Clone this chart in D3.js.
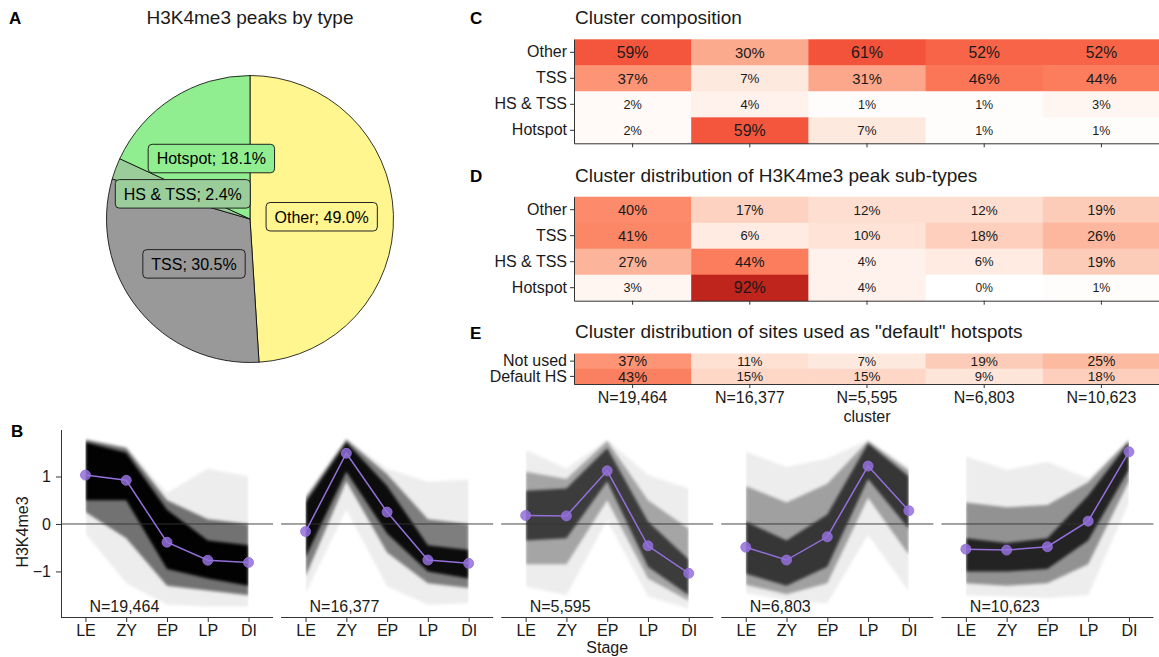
<!DOCTYPE html>
<html><head><meta charset="utf-8">
<script src="https://cdn.jsdelivr.net/npm/d3@7"></script>
<style>
body{margin:0;background:#fff}
text{font-family:"Liberation Sans",Arial,Helvetica,sans-serif}
</style>
</head><body>
<svg id="chart" width="1159" height="657"></svg>
<script>
// ---------------- DATA ----------------
// A: pie
const pieTypes = ["Other", "TSS", "HS & TSS", "Hotspot"];
const piePercents = [49.0, 30.5, 2.4, 18.1];

// clusters (shared by B, C, D, E)
const clusterLabels = ["N=19,464", "N=16,377", "N=5,595", "N=6,803", "N=10,623"];
const clusterSizes = [19464, 16377, 5595, 6803, 10623];

// C: cluster composition (% of each cluster)
const peakTypes = ["Other", "TSS", "HS & TSS", "Hotspot"];
const compositionOther   = [59, 30, 61, 52, 52];
const compositionTSS     = [37, 7, 31, 46, 44];
const compositionHSTSS   = [2, 4, 1, 1, 3];
const compositionHotspot = [2, 59, 7, 1, 1];

// D: cluster distribution of peak sub-types
const distOther   = [40, 17, 12, 12, 19];
const distTSS     = [41, 6, 10, 18, 26];
const distHSTSS   = [27, 44, 4, 6, 19];
const distHotspot = [3, 92, 4, 0, 1];

// E: default hotspots
const hsRows = ["Not used", "Default HS"];
const hsNotUsed = [37, 11, 7, 19, 25];
const hsDefault = [43, 15, 15, 9, 18];

// B: H3K4me3 profiles by stage (mean + spread envelopes)
const stages = ["LE", "ZY", "EP", "LP", "DI"];
const yTicks = [-1, 0, 1];
const meanProfile = [
  [1.03, 0.92, -0.385, -0.765, -0.81],
  [-0.16, 1.49, 0.25, -0.76, -0.83],
  [0.18, 0.17, 1.12, -0.46, -1.04],
  [-0.49, -0.76, -0.27, 1.22, 0.28],
  [-0.53, -0.55, -0.48, 0.06, 1.52]
];
const profileMax = [
  [1.78, 1.63, 0.65, 1.17, 1.00],
  [0.58, 1.80, 1.17, 0.89, 0.93],
  [1.56, 1.17, 1.78, 1.03, 0.75],
  [1.52, 1.20, 1.38, 1.77, 1.20],
  [1.42, 1.14, 1.31, 0.96, 1.78]
];
const profileP90 = [
  [1.78, 1.60, 0.50, 0.10, 0.00],
  [0.55, 1.78, 1.05, 0.10, 0.00],
  [1.10, 0.95, 1.75, 0.50, -0.10],
  [0.80, 0.45, 0.85, 1.75, 1.12],
  [0.45, 0.35, 0.40, 0.88, 1.77]
];
const profileP75 = [
  [1.72, 1.50, 0.30, -0.35, -0.45],
  [0.45, 1.72, 0.80, -0.45, -0.55],
  [0.70, 0.75, 1.60, 0.05, -0.75],
  [0.05, -0.35, 0.20, 1.70, 1.00],
  [-0.30, -0.40, -0.30, 0.60, 1.72]
];
const profileP25 = [
  [0.50, 0.50, -0.95, -1.15, -1.30],
  [-0.70, 1.10, -0.20, -1.00, -1.15],
  [-0.35, -0.30, 0.90, -0.90, -1.50],
  [-1.05, -1.30, -0.90, 0.95, -0.10],
  [-1.00, -1.00, -0.95, -0.35, 1.15]
];
const profileP10 = [
  [0.25, -0.30, -1.30, -1.40, -1.50],
  [-1.10, 0.90, -0.60, -1.25, -1.35],
  [-0.85, -0.85, 0.50, -1.15, -1.62],
  [-1.28, -1.48, -1.25, 0.55, -0.65],
  [-1.25, -1.30, -1.25, -0.85, 0.90]
];
const profileMin = [
  [-0.20, -1.25, -1.70, -1.74, -1.74],
  [-1.46, 0.30, -1.32, -1.70, -1.67],
  [-1.32, -1.50, 0.08, -1.53, -1.78],
  [-1.46, -1.60, -1.67, -0.23, -1.42],
  [-1.50, -1.53, -1.56, -1.50, 0.44]
];

// ---------------- DRAW ----------------
const svg = d3.select("#chart");
svg.append("rect").attr("width", 1159).attr("height", 657).attr("fill", "#fff");
const TXT = "#1a1a1a", AX = "#333";
const FONT = '"Liberation Sans",Arial,sans-serif';

const defs = svg.append("defs");
defs.append("filter").attr("id", "soft").attr("x", "-5%").attr("y", "-5%").attr("width", "110%").attr("height", "110%")
  .append("feGaussianBlur").attr("stdDeviation", 1.6);

function letter(t, x, y) {
  svg.append("text").attr("x", x).attr("y", y).attr("font-size", 17)
    .attr("font-weight", "bold").attr("fill", "#000").text(t);
}
letter("A", 9, 23.5); letter("B", 11, 436.5); letter("C", 470, 23.5);
letter("D", 470, 181.5); letter("E", 470, 338.5);

// ---- A: pie ----
const pieColors = { "Other": "#FFF68F", "TSS": "#999999", "HS & TSS": "#9BCD9B", "Hotspot": "#90EE90" };
const cx = 250, cy = 219, R = 143.5;
svg.append("text").attr("x", cx).attr("y", 24).attr("text-anchor", "middle")
  .attr("font-size", 19).attr("fill", TXT).text("H3K4me3 peaks by type");
const pieData = d3.pie().sort(null).value(d => d.v)(pieTypes.map((t, i) => ({ t, v: piePercents[i] })));
const arc = d3.arc().innerRadius(0).outerRadius(R);
const labelArc = d3.arc().innerRadius(R * 0.5).outerRadius(R * 0.5);
const pg = svg.append("g").attr("transform", `translate(${cx},${cy})`);
pg.selectAll("path.slice").data(pieData).join("path").attr("class", "slice")
  .attr("d", arc).attr("fill", d => pieColors[d.data.t]).attr("stroke", "#000").attr("stroke-width", 0.8);
pieData.forEach(d => {
  const [lx, ly] = labelArc.centroid(d);
  const lg = pg.append("g").attr("transform", `translate(${lx},${ly})`);
  const rect = lg.append("rect");
  const tx = lg.append("text").attr("text-anchor", "middle").attr("dy", "0.36em")
    .attr("font-size", 16).attr("fill", "#000").text(`${d.data.t}; ${d.data.v.toFixed(1)}%`);
  const w = tx.node().getComputedTextLength() + 17, h = 28.5;
  rect.attr("x", -w / 2).attr("y", -h / 2).attr("width", w).attr("height", h).attr("rx", 4)
    .attr("fill", pieColors[d.data.t]).attr("stroke", "#222").attr("stroke-width", 1);
});

// ---- C, D, E heatmaps ----
const fillColor = v => {
  const t = v / 100;
  const tt = t <= 0.5 ? t : 0.5 + (t - 0.5) * 0.62;
  const c = d3.rgb(d3.interpolateRgb("#ffffff", d3.interpolateReds(tt))(Math.min(1, t / 0.05)));
  if (t > 0.55) { c.r -= (t - 0.55) * 25; c.g += (t - 0.55) * 25; }
  return c.formatHex();
};
const hx = d3.scaleBand().domain(clusterLabels).range([574, 1160]);

function heatmap(rows, values, top, bottom, fMin, fMax, title, titleY, xLabels) {
  const y = d3.scaleBand().domain(rows).range([top, bottom]);
  const g = svg.append("g");
  const maxV = d3.max(values.flat());
  const cells = [];
  rows.forEach((r, ri) => clusterLabels.forEach((c, ci) => cells.push({ r, c, v: values[ri][ci] })));
  g.selectAll("rect").data(cells).join("rect")
    .attr("x", d => hx(d.c)).attr("y", d => y(d.r))
    .attr("width", hx.bandwidth() + 0.5).attr("height", y.bandwidth() + 0.5)
    .attr("fill", d => fillColor(d.v));
  g.selectAll("text.val").data(cells).join("text").attr("class", "val")
    .attr("x", d => hx(d.c) + hx.bandwidth() / 2).attr("y", d => y(d.r) + y.bandwidth() / 2)
    .attr("dy", "0.36em").attr("text-anchor", "middle").attr("fill", TXT)
    .attr("font-size", d => fMin + (fMax - fMin) * Math.sqrt(d.v / maxV))
    .text(d => d.v + "%");
  const ya = g.append("g").attr("transform", `translate(574,0)`)
    .call(d3.axisLeft(y).tickSize(4).tickPadding(3).tickSizeOuter(0));
  const xa = g.append("g").attr("transform", `translate(0,${bottom})`)
    .call(d3.axisBottom(hx).tickSize(4).tickPadding(4).tickSizeOuter(0));
  [ya, xa].forEach(a => {
    a.attr("font-size", 16).attr("font-family", FONT).attr("color", AX);
    a.selectAll("text").attr("fill", TXT);
    a.select(".domain").attr("stroke", AX).attr("stroke-width", 1);
  });
  if (!xLabels) xa.selectAll("text").remove();
  svg.append("text").attr("x", 575).attr("y", titleY).attr("font-size", 19).attr("fill", TXT).text(title);
}
heatmap(peakTypes, [compositionOther, compositionTSS, compositionHSTSS, compositionHotspot],
  39.3, 143.3, 12, 16, "Cluster composition", 24, false);
heatmap(peakTypes, [distOther, distTSS, distHSTSS, distHotspot],
  196.7, 300.7, 12, 16, "Cluster distribution of H3K4me3 peak sub-types", 182, false);
heatmap(hsRows, [hsNotUsed, hsDefault],
  353.5, 384, 11.5, 14.7, 'Cluster distribution of sites used as "default" hotspots', 338, true);
svg.append("text").attr("x", 867).attr("y", 422).attr("text-anchor", "middle")
  .attr("font-size", 16).attr("fill", TXT).text("cluster");

// ---- B: profiles ----
const yB = d3.scaleLinear().domain([-1.96, 1.98]).range([617, 430]);
const panelW = 212, panelStep = 220.1, panelX0 = 61;
const maxN = d3.max(clusterSizes);
clusterLabels.forEach((lab, i) => {
  const x0 = panelX0 + i * panelStep;
  const x = d3.scalePoint().domain(stages).range([x0, x0 + panelW]).padding(0.6);
  const g = svg.append("g");
  const clipId = "clip" + i;
  defs.append("clipPath").attr("id", clipId).append("rect")
    .attr("x", x("LE")).attr("y", 428).attr("width", x("DI") - x("LE")).attr("height", 192);
  const bandsG = g.append("g").attr("clip-path", `url(#${clipId})`).append("g").attr("filter", "url(#soft)");
  const band = (lo, hi, op) => bandsG.append("path")
    .datum(stages.map((s, k) => ({ s, lo: lo[i][k], hi: hi[i][k] })))
    .attr("d", d3.area().x(d => x(d.s)).y0(d => yB(d.lo)).y1(d => yB(d.hi)))
    .attr("fill", "#000").attr("fill-opacity", op);
  const dens = clusterSizes[i] / maxN;
  band(profileMin, profileMax, 0.07);
  band(profileP10, profileP90, 0.22 + 0.3 * dens);
  band(profileP25, profileP75, 0.5 + 0.48 * dens);
  g.append("line").attr("x1", x0).attr("x2", x0 + panelW).attr("y1", yB(0)).attr("y2", yB(0))
    .attr("stroke", "#333").attr("stroke-width", 0.9);
  const md = stages.map((s, k) => ({ s, v: meanProfile[i][k] }));
  g.append("path").datum(md).attr("d", d3.line().x(d => x(d.s)).y(d => yB(d.v)))
    .attr("fill", "none").attr("stroke", "#9370DB").attr("stroke-width", 1.5);
  g.selectAll("circle").data(md).join("circle").attr("cx", d => x(d.s)).attr("cy", d => yB(d.v))
    .attr("r", 5).attr("fill", "#9370DB").attr("fill-opacity", 0.85)
    .attr("stroke", "#9370DB").attr("stroke-width", 0.8);
  g.append("text").attr("x", x("LE") + 4).attr("y", 611.5).attr("font-size", 16).attr("fill", TXT).text(lab);
  const xa = g.append("g").attr("transform", `translate(0,617)`)
    .call(d3.axisBottom(x).tickSize(5).tickPadding(3).tickSizeOuter(0));
  xa.attr("font-size", 16).attr("font-family", FONT).attr("color", AX);
  xa.selectAll("text").attr("fill", TXT);
  xa.select(".domain").attr("d", `M${x0},0.5H${x0 + panelW}`).attr("stroke", AX);
  if (i === 0) {
    const ya = g.append("g").attr("transform", `translate(${x0},0)`)
      .call(d3.axisLeft(yB).tickValues(yTicks).tickFormat(d3.format("d")).tickSize(5).tickPadding(5).tickSizeOuter(0));
    ya.attr("font-size", 16).attr("font-family", FONT).attr("color", AX);
    ya.selectAll("text").attr("fill", TXT);
    ya.select(".domain").attr("d", `M0.5,430V617`).attr("stroke", AX);
  }
});
svg.append("text").attr("transform", "translate(28,532) rotate(-90)").attr("text-anchor", "middle")
  .attr("font-size", 16).attr("fill", TXT).text("H3K4me3");
svg.append("text").attr("x", panelX0 + 2 * panelStep + panelW / 2).attr("y", 653)
  .attr("text-anchor", "middle").attr("font-size", 16).attr("fill", TXT).text("Stage");
</script>
</body></html>
